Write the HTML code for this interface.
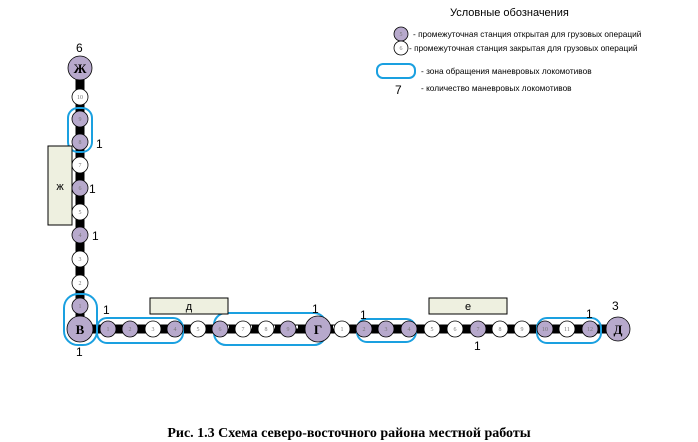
<!DOCTYPE html>
<html><head><meta charset="utf-8"><style>
html,body{margin:0;padding:0;background:#fff;}
svg{display:block;}
.sans{font-family:"Liberation Sans",sans-serif;}
.serif{font-family:"Liberation Serif",serif;}
.s{font-family:"Liberation Serif",serif;font-size:6px;fill:#777;text-anchor:middle;}
.n{font-family:"Liberation Sans",sans-serif;font-size:12px;fill:#000;}
</style></head><body>
<svg width="698" height="442" viewBox="0 0 698 442" xmlns="http://www.w3.org/2000/svg">
<line x1="80" y1="68" x2="80" y2="330" stroke="#000" stroke-width="9"/>
<line x1="78" y1="68" x2="78" y2="330" stroke="#fff" stroke-width="3" stroke-dasharray="12 11"/>
<line x1="80" y1="329" x2="618" y2="329" stroke="#000" stroke-width="9"/>
<line x1="80" y1="327" x2="618" y2="327" stroke="#fff" stroke-width="3" stroke-dasharray="11 12"/>
<g fill="none" stroke="#1aa0e0" stroke-width="2">
<rect x="68" y="108" width="24" height="44" rx="10"/>
<rect x="64" y="294" width="33" height="51" rx="14"/>
<rect x="97" y="318" width="86" height="25" rx="10"/>
<rect x="214" y="313" width="112" height="32" rx="12"/>
<rect x="357" y="319" width="59" height="23" rx="10"/>
<rect x="537" y="318" width="64" height="25" rx="10"/>
<rect x="377" y="64" width="38" height="14" rx="6"/>
</g>
<rect x="48" y="146" width="24" height="79" fill="#eef0e0" stroke="#000" stroke-width="1"/>
<text class="sans" x="60" y="190" font-size="11" text-anchor="middle">ж</text>
<rect x="150" y="298" width="78" height="16" fill="#eef0e0" stroke="#000" stroke-width="1"/>
<text class="sans" x="189" y="310" font-size="11" text-anchor="middle">д</text>
<rect x="429" y="298" width="78" height="16" fill="#eef0e0" stroke="#000" stroke-width="1"/>
<text class="sans" x="468" y="310" font-size="11" text-anchor="middle">е</text>
<g stroke="#000" stroke-width="0.8">
<circle cx="80" cy="68" r="12" fill="#b7a9cc"/>
<circle cx="80" cy="97" r="8" fill="#fff"/>
<circle cx="80" cy="119" r="8" fill="#b7a9cc"/>
<circle cx="80" cy="142" r="8" fill="#b7a9cc"/>
<circle cx="80" cy="165" r="8" fill="#fff"/>
<circle cx="80" cy="188" r="8" fill="#b7a9cc"/>
<circle cx="80" cy="212" r="8" fill="#fff"/>
<circle cx="80" cy="235" r="8" fill="#b7a9cc"/>
<circle cx="80" cy="259" r="8" fill="#fff"/>
<circle cx="80" cy="283" r="8" fill="#fff"/>
<circle cx="80" cy="306" r="8" fill="#b7a9cc"/>
<circle cx="80" cy="329" r="13" fill="#b7a9cc"/>
<circle cx="108" cy="329" r="8" fill="#b7a9cc"/>
<circle cx="130" cy="329" r="8" fill="#b7a9cc"/>
<circle cx="153" cy="329" r="8" fill="#fff"/>
<circle cx="175" cy="329" r="8" fill="#b7a9cc"/>
<circle cx="198" cy="329" r="8" fill="#fff"/>
<circle cx="220" cy="329" r="8" fill="#b7a9cc"/>
<circle cx="243" cy="329" r="8" fill="#fff"/>
<circle cx="266" cy="329" r="8" fill="#fff"/>
<circle cx="288" cy="329" r="8" fill="#b7a9cc"/>
<circle cx="318" cy="329" r="13" fill="#b7a9cc"/>
<circle cx="342" cy="329" r="8" fill="#fff"/>
<circle cx="364" cy="329" r="8" fill="#b7a9cc"/>
<circle cx="386" cy="329" r="8" fill="#b7a9cc"/>
<circle cx="409" cy="329" r="8" fill="#b7a9cc"/>
<circle cx="432" cy="329" r="8" fill="#fff"/>
<circle cx="455" cy="329" r="8" fill="#fff"/>
<circle cx="478" cy="329" r="8" fill="#b7a9cc"/>
<circle cx="500" cy="329" r="8" fill="#fff"/>
<circle cx="522" cy="329" r="8" fill="#fff"/>
<circle cx="545" cy="329" r="8" fill="#b7a9cc"/>
<circle cx="567" cy="329" r="8" fill="#fff"/>
<circle cx="590" cy="329" r="8" fill="#b7a9cc"/>
<circle cx="618" cy="329" r="12" fill="#b7a9cc"/>
<circle cx="401" cy="34" r="7" fill="#b7a9cc"/>
<circle cx="401" cy="48" r="7" fill="#fff"/>
</g>
<g class="serif" font-weight="bold" font-size="13" text-anchor="middle" fill="#000">
<text x="80" y="73">Ж</text><text x="80" y="334">В</text><text x="318" y="334">Г</text><text x="618" y="334">Д</text>
</g>
<g class="s">
<text x="80" y="99">10</text><text x="80" y="121">9</text><text x="80" y="144">8</text><text x="80" y="167">7</text><text x="80" y="190">6</text><text x="80" y="214">5</text><text x="80" y="237">4</text><text x="80" y="261">3</text><text x="80" y="285">2</text><text x="80" y="308">1</text>
<text x="108" y="331">1</text><text x="130" y="331">2</text><text x="153" y="331">3</text><text x="175" y="331">4</text><text x="198" y="331">5</text><text x="220" y="331">6</text><text x="243" y="331">7</text><text x="266" y="331">8</text><text x="288" y="331">9</text>
<text x="342" y="331">1</text><text x="364" y="331">2</text><text x="386" y="331">3</text><text x="409" y="331">4</text><text x="432" y="331">5</text><text x="455" y="331">6</text><text x="478" y="331">7</text><text x="500" y="331">8</text><text x="522" y="331">9</text><text x="545" y="331">10</text><text x="567" y="331">11</text><text x="590" y="331">12</text>
<text x="401" y="36">5</text><text x="401" y="50">6</text>
</g>
<g class="n">
<text x="76" y="52">6</text>
<text x="96" y="148">1</text>
<text x="89" y="193">1</text>
<text x="92" y="240">1</text>
<text x="103" y="314">1</text>
<text x="76" y="356">1</text>
<text x="312" y="313">1</text>
<text x="360" y="319">1</text>
<text x="474" y="350">1</text>
<text x="586" y="318">1</text>
<text x="612" y="310">3</text>
<text x="395" y="94">7</text>
</g>
<text class="sans" x="450" y="16" font-size="11">Условные обозначения</text>
<g class="sans" font-size="8.3" fill="#000">
<text x="413" y="37">- промежуточная станция открытая для грузовых операций</text>
<text x="409" y="51">- промежуточная станция закрытая для грузовых операций</text>
<text x="421" y="74">- зона обращения маневровых  локомотивов</text>
<text x="421" y="91">- количество маневровых локомотивов</text>
</g>
<text class="serif" x="349" y="437" font-weight="bold" font-size="14" text-anchor="middle">Рис. 1.3 Схема северо-восточного района местной работы</text>
</svg>
</body></html>
